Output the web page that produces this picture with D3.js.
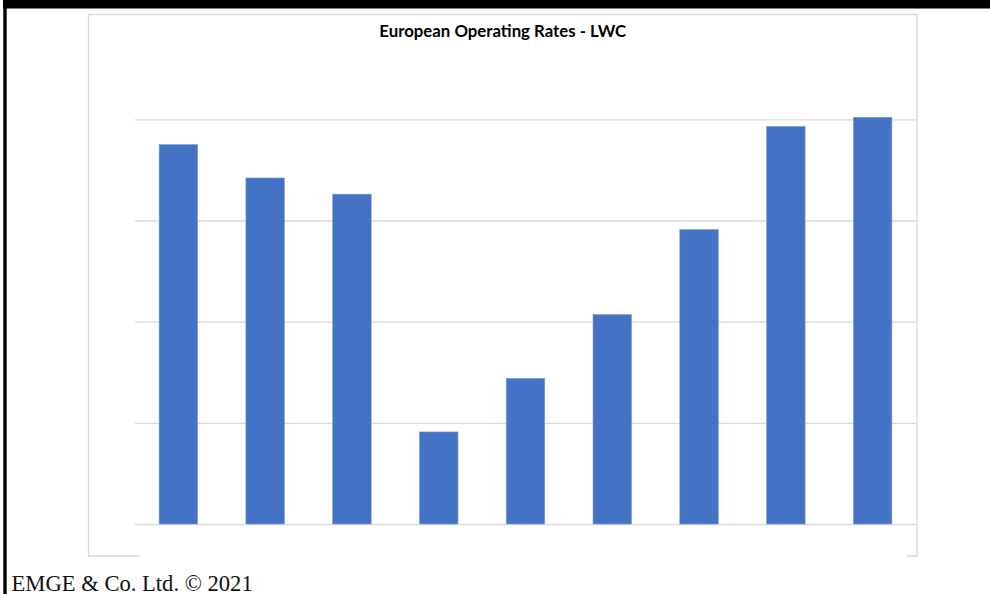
<!DOCTYPE html>
<html>
<head>
<meta charset="utf-8">
<script src="https://cdn.jsdelivr.net/npm/d3@7"></script>
<style>
  body { margin: 0; background: #fff; overflow: hidden; }
</style>
</head>
<body>
<script>
// Data (axis has no labels, values in % of capacity)
let categories = ["1", "2", "3", "4", "5", "6", "7", "8", "9"];
let rates = [97.5, 94.2, 92.6, 69.1, 74.4, 80.7, 89.1, 99.3, 100.2];
let gridTicks = [60, 70, 80, 90, 100];
let title = "European Operating Rates - LWC";
let footer = "EMGE & Co. Ltd. \u00A9 2021";

let W = 990, H = 594;
let svg = d3.select("body").append("svg")
            .attr("width", W)
            .attr("height", H);

// Slide decorations: black top strip and left rule
svg.append("rect").attr("x", 3).attr("y", 0).attr("width", W - 3).attr("height", 8.5).attr("fill", "#000");
svg.append("rect").attr("x", 3.3).attr("y", 0).attr("width", 3.4).attr("height", H).attr("fill", "#000");

// Chart frame (bottom edge partly hidden in the original)
let frame = {l: 88.5, t: 14.5, r: 917, b: 556};
let border = "#d9d9d9";
let framePath = d3.path();
framePath.moveTo(140, frame.b); framePath.lineTo(frame.l, frame.b);
framePath.lineTo(frame.l, frame.t); framePath.lineTo(frame.r, frame.t);
framePath.lineTo(frame.r, frame.b); framePath.lineTo(907, frame.b);
svg.append("path")
    .attr("d", framePath.toString())
    .attr("fill", "none")
    .attr("stroke", border)
    .attr("stroke-width", 1.3);

// Title
svg.append("text")
    .attr("x", (frame.l + frame.r) / 2)
    .attr("y", 37)
    .attr("text-anchor", "middle")
    .attr("font-family", "Lato, 'Open Sans', sans-serif")
    .attr("font-weight", "bold")
    .attr("font-size", 16.8)
    .attr("fill", "#000")
    .text(title);

// Scales
let plot = {l: 135, r: 916, t: 119.3, b: 524};
let x = d3.scaleBand()
          .domain(categories)
          .range([plot.l, plot.r])
          .padding(0);
let y = d3.scaleLinear()
          .domain([60, 100])
          .range([plot.b, plot.t]);

// Gridlines
svg.append("g")
    .attr("transform", `translate(${plot.l},0)`)
    .call(d3.axisLeft(y).tickValues(gridTicks).tickSize(-(plot.r - plot.l)).tickFormat(""))
    .call(g => g.select(".domain").remove())
    .call(g => g.selectAll(".tick line").attr("stroke", border).attr("stroke-width", 1.3));

// Bars
let barW = x.bandwidth() * 0.444;
svg.append("g")
    .selectAll("rect")
    .data(rates)
    .enter()
    .append("rect")
    .attr("x", (d, i) => x(categories[i]) + (x.bandwidth() - barW) / 2)
    .attr("y", d => y(d))
    .attr("width", barW)
    .attr("height", d => y(60) - y(d))
    .attr("fill", "#4472c4")
    .attr("stroke", "#7e9dd6")
    .attr("stroke-width", 0.6);

// Footer
svg.append("text")
    .attr("x", 11.5)
    .attr("y", 590.5)
    .attr("font-family", "'Liberation Serif', 'DejaVu Serif', serif")
    .attr("font-size", 22.6)
    .attr("fill", "#111")
    .text(footer);
</script>
</body>
</html>
